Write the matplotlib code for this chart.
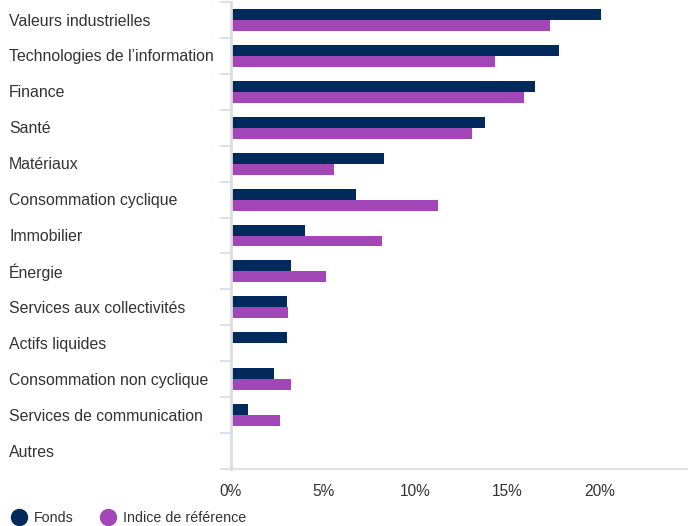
import matplotlib.pyplot as plt
from matplotlib.lines import Line2D

plt.rcParams['font.family'] = ['Liberation Sans', 'DejaVu Sans']

# secteurs (de haut en bas)
categories = ["Valeurs industrielles", "Technologies de l\u2019information", "Finance", "Santé",
              "Matériaux", "Consommation cyclique", "Immobilier", "Énergie",
              "Services aux collectivités", "Actifs liquides", "Consommation non cyclique",
              "Services de communication", "Autres"]
fonds = [20.1, 17.8, 16.5, 13.8, 8.3, 6.8, 4.0, 3.25, 3.05, 3.05, 2.35, 0.92, 0.0]
indice = [17.3, 14.3, 15.9, 13.1, 5.6, 11.25, 8.2, 5.15, 3.1, 0.0, 3.25, 2.65, 0.0]
xticks = [0, 5, 10, 15, 20]
xticklabels = ["0%", "5%", "10%", "15%", "20%"]

navy = "#002a5c"
purple = "#a347b8"
W, H = 688, 526

fig = plt.figure(figsize=(W / 100, H / 100), dpi=100)
ax = fig.add_axes([231 / W, (H - 469) / H, (688 - 231) / W, (469 - 2) / H])

y = list(range(len(categories)))
h = 0.305
ax.barh([v - h / 2 for v in y], fonds, height=h, color=navy)
ax.barh([v + h / 2 for v in y], indice, height=h, color=purple)

ax.set_ylim(len(categories) - 0.5, -0.5)
ax.set_xlim(0, 24.8)

# separators between categories
ax.set_yticks([])
ax.set_yticks([i - 0.5 for i in range(len(categories) + 1)], minor=True)
ax.tick_params(axis='y', which='minor', length=8, width=1.2, color="#d3dcee")

ax.set_xticks(xticks)
ax.set_xticklabels(xticklabels, fontsize=11.2, color="#333333")
ax.tick_params(axis='x', length=0, pad=11)

for s in ["top", "right"]:
    ax.spines[s].set_visible(False)
ax.spines["left"].set_color("#dddddd")
ax.spines["left"].set_linewidth(2)
ax.spines["bottom"].set_color("#dddddd")
ax.spines["bottom"].set_linewidth(1.2)

for i, name in enumerate(categories):
    ax.text(-222 / 18.43, i + 0.03, name, ha="left", va="center", fontsize=11.4, color="#333333")

handles = [Line2D([], [], marker="o", linestyle="", markersize=11.5, color=navy),
           Line2D([], [], marker="o", linestyle="", markersize=11.5, color=purple)]
fig.legend(handles, ["Fonds", "Indice de référence"], loc="lower left",
           bbox_to_anchor=(-0.002, -0.022), ncol=2, frameon=False, fontsize=10.3,
           handlelength=1.0, handletextpad=0.55, columnspacing=1.9, labelcolor="#333333")

fig.savefig("out.png", dpi=100)
